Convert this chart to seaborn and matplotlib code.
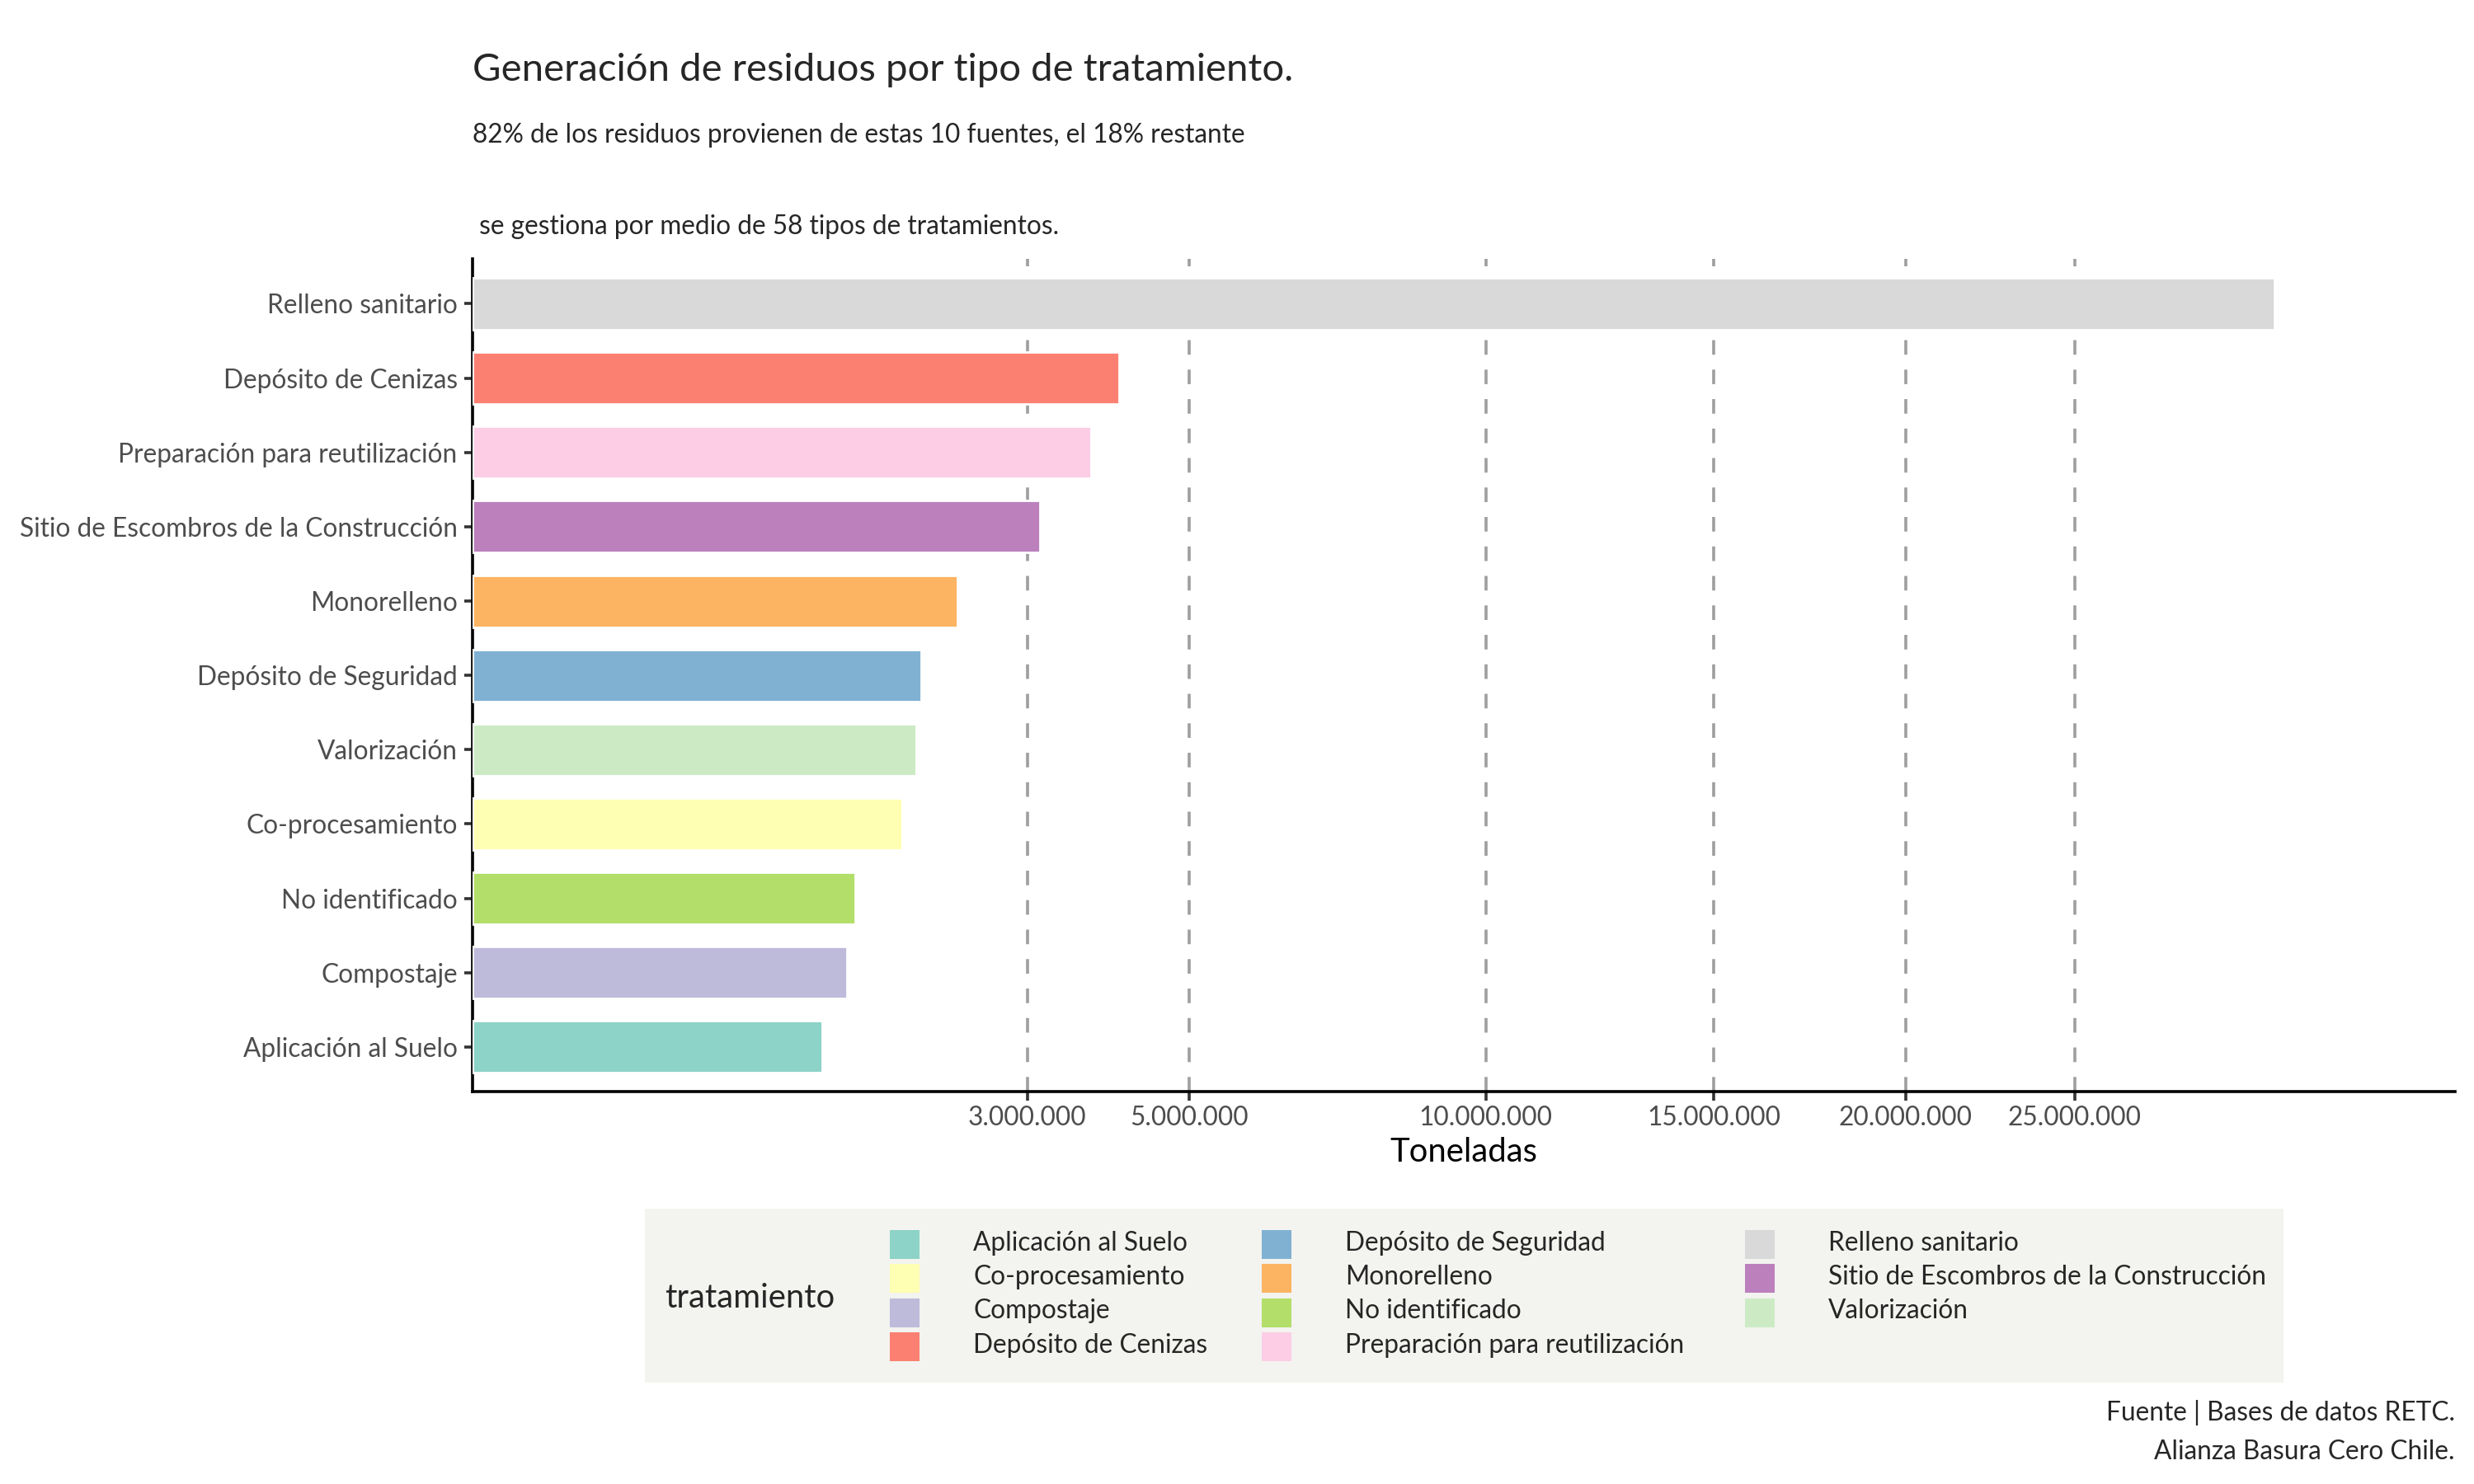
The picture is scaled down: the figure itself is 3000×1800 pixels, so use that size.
import numpy as np
import pandas as pd
import matplotlib
matplotlib.use("Agg")
import matplotlib.pyplot as plt
import seaborn as sns
from matplotlib.patches import Rectangle
from matplotlib.ticker import FixedLocator, FuncFormatter

# %% datos (toneladas)
tratamientos = [
    "Relleno sanitario",
    "Depósito de Cenizas",
    "Preparación para reutilización",
    "Sitio de Escombros de la Construcción",
    "Monorelleno",
    "Depósito de Seguridad",
    "Valorización",
    "Co-procesamiento",
    "No identificado",
    "Compostaje",
    "Aplicación al Suelo",
]
toneladas = [31630000, 4070000, 3730000, 3140000, 2290000, 1960000,
             1920000, 1800000, 1430000, 1370000, 1190000]

# orden alfabetico para leyenda y colores (Set3)
leyenda = [
    "Aplicación al Suelo", "Co-procesamiento", "Compostaje",
    "Depósito de Cenizas", "Depósito de Seguridad", "Monorelleno",
    "No identificado", "Preparación para reutilización",
    "Relleno sanitario", "Sitio de Escombros de la Construcción",
    "Valorización",
]
ticks_x = [3000000, 5000000, 10000000, 15000000, 20000000, 25000000]

titulo = "Generación de residuos por tipo de tratamiento."
subtitulo_1 = "82% de los residuos provienen de estas 10 fuentes, el 18% restante"
subtitulo_2 = " se gestiona por medio de 58 tipos de tratamientos."
fuente_1 = "Fuente | Bases de datos RETC."
fuente_2 = "Alianza Basura Cero Chile."

df = pd.DataFrame({"tratamiento": tratamientos, "toneladas": toneladas})
colores = dict(zip(leyenda, sns.color_palette("Set3", len(leyenda))))

W, H = 3000, 1800
px = lambda x: x / W
py = lambda y: 1 - y / H

# %%
sns.set_style("white")
plt.rcParams["font.family"] = ["Lato", "DejaVu Sans"]

fig = plt.figure(figsize=(15, 9), dpi=200)
ax = fig.add_axes([px(572.5), py(1324), (2977 - 572.5) / W, (1324 - 314.4) / H])

sns.barplot(data=df, y="tratamiento", x="toneladas", hue="tratamiento",
            order=tratamientos, palette=colores, width=0.7, saturation=1,
            legend=False, ax=ax, zorder=3)

fwd = lambda x: np.sqrt(np.clip(x, 0, None))
inv = lambda x: np.square(x)
ax.set_xscale("function", functions=(fwd, inv))
ax.set_xlim(0, 38270000)
ax.set_ylim(10.6, -0.6)

ax.xaxis.set_major_locator(FixedLocator(ticks_x))
ax.xaxis.set_major_formatter(FuncFormatter(lambda v, p: f"{v:,.0f}".replace(",", ".")))
ax.xaxis.set_minor_locator(FixedLocator([]))
for t in ticks_x:
    ax.axvline(t, color="#9E9E9E", lw=1.3, linestyle=(0, (4.9, 5.0)), zorder=1)

for s in ["top", "right"]:
    ax.spines[s].set_visible(False)
for s in ["left", "bottom"]:
    ax.spines[s].set_color("black")
    ax.spines[s].set_linewidth(1.3)

ax.tick_params(axis="y", length=3.6, width=1.3, color="#333333", pad=2.8,
               labelsize=11.4, labelcolor="#4D4D4D", left=True)
ax.tick_params(axis="x", length=4, width=1.3, color="#333333", pad=2,
               labelsize=11.4, labelcolor="#4D4D4D", bottom=True)
ax.set_ylabel("")
ax.set_xlabel("Toneladas", fontsize=14.4, color="black", labelpad=3)

# titulos
fig.text(px(573), py(98.3), titulo, fontsize=17, va="baseline", ha="left")
fig.text(px(573), py(172.7), subtitulo_1, fontsize=11.4, va="baseline", ha="left")
fig.text(px(573), py(284), subtitulo_2, fontsize=11.4, va="baseline", ha="left")

# leyenda (caja abajo, 3 columnas, 4 filas)
fig.add_artist(Rectangle((px(781.5), py(1677)), (2769 - 781.5) / W,
                         (1677 - 1466) / H, transform=fig.transFigure,
                         facecolor="#F3F3EF", edgecolor="none", zorder=0))
fig.text(px(806), py(1586), "tratamiento", fontsize=14.4,
         va="baseline", ha="left")
x_cols = [1079, 1530, 2116]
for i, nombre in enumerate(leyenda):
    col, fila = divmod(i, 4)
    x0 = x_cols[col]
    y0 = 1492 + fila * 41.3
    fig.add_artist(Rectangle((px(x0), py(y0 + 35)), 36 / W, 35 / H,
                             transform=fig.transFigure, facecolor=colores[nombre],
                             edgecolor="none", zorder=1))
    fig.text(px(x0 + 101), py(y0 + 24.7), nombre, fontsize=11.4,
             va="baseline", ha="left")

# fuente
fig.text(px(2977), py(1723), fuente_1, fontsize=11.4, va="baseline", ha="right")
fig.text(px(2977), py(1770), fuente_2, fontsize=11.4, va="baseline", ha="right")

fig.savefig("out.png", dpi=200)
